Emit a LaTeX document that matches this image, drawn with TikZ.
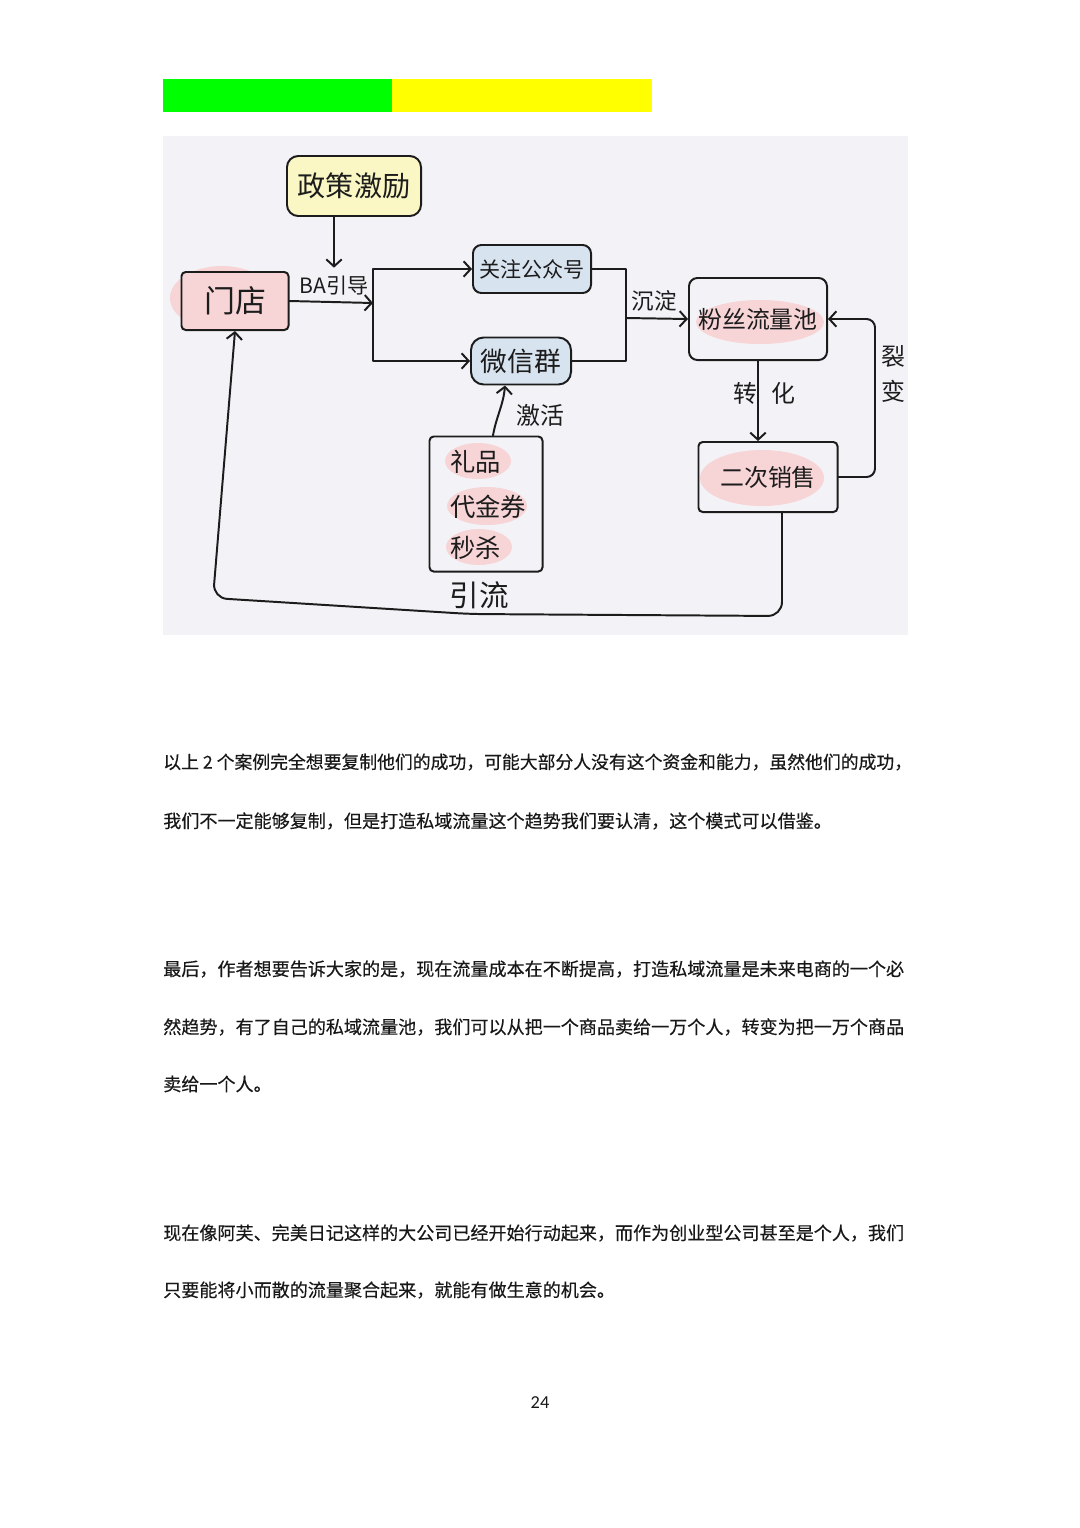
\documentclass[tikz,border=0pt]{standalone}
\usepackage{fontspec}
\setmainfont{Noto Sans CJK SC}
\newfontfamily\pagefont{Carlito}
\newfontfamily\bodyfont[FakeBold=0.3]{Noto Sans CJK SC}
\usepackage{tikz}
\usetikzlibrary{calc}
\usetikzlibrary{arrows.meta}
\usetikzlibrary{shapes.geometric,positioning}
\XeTeXlinebreaklocale "zh"
\XeTeXlinebreakskip=0pt plus 1pt
\definecolor{bargreen}{RGB}{0,255,0}
\definecolor{baryellow}{RGB}{255,255,0}
\definecolor{photo}{RGB}{243,243,247}
\definecolor{ink}{RGB}{28,28,28}
\definecolor{hlpink}{RGB}{247,212,214}
\definecolor{hlyellow}{RGB}{250,247,196}
\definecolor{hlblue}{RGB}{216,227,240}
\definecolor{bodytext}{RGB}{24,24,24}
\newcommand{\bodysize}{\bodyfont\fontsize{12.85pt}{16pt}\selectfont}
\newcommand{\fullline}[1]{\makebox[18.5cm][s]{#1}}
\tikzset{
    inkline/.style={
        line width=1.4pt,
        ink,
        line join=round,
        line cap=round
    },
    % 手绘箭头
    inkarrow/.style={
        inkline,
        -{Straight Barb[length=5pt, width=11pt]}
    },
    card/.style={draw=ink, line width=1.4pt, rounded corners=3pt, text=ink, inner sep=0pt},
    tag/.style={text=ink, inner sep=0pt},
    bodyline/.style={anchor=west, inner sep=0pt, text=bodytext, font=\bodysize}
}
\begin{document}
\begin{tikzpicture}[x=0.025cm, y=-0.025cm]
    \useasboundingbox (0,0) rectangle (1080,1528);
    \fill[white] (0,0) rectangle (1080,1528);

    \fill[bargreen] (163,79) rectangle (392,112);
    \fill[baryellow] (392,79) rectangle (652,112);
    \fill[photo] (163,136) rectangle (908,635);

    \fill[hlpink] (222,298) ellipse [x radius=52, y radius=32];
    \fill[hlpink] (760,322) ellipse [x radius=64, y radius=22];
    \fill[hlpink] (762,478) ellipse [x radius=62, y radius=28];
    \fill[hlpink] (478,461) ellipse [x radius=33, y radius=18];
    \fill[hlpink] (487,506) ellipse [x radius=40, y radius=19];
    \fill[hlpink] (479,547) ellipse [x radius=33, y radius=18];

    \node[card, fill=hlyellow, minimum width=3.35cm, minimum height=1.5cm, rounded corners=8pt,
        font=\fontsize{20pt}{22pt}\selectfont] (policy) at (354,186) {政策激励};
    \node[card, fill=hlpink, minimum width=2.675cm, minimum height=1.45cm,
        font=\fontsize{22pt}{24pt}\selectfont] (store) at (235,301) {门店};
    \node[card, fill=hlblue, minimum width=2.95cm, minimum height=1.2cm, rounded corners=6pt,
        font=\fontsize{15pt}{17pt}\selectfont] (gzh) at (532,269) {关注公众号};
    \node[card, fill=hlblue, minimum width=2.5cm, minimum height=1.175cm, rounded corners=9pt,
        font=\fontsize{19pt}{21pt}\selectfont] (wxq) at (521,361) {微信群};
    \node[card, minimum width=3.45cm, minimum height=2.05cm, rounded corners=6pt,
        font=\fontsize{17pt}{19pt}\selectfont] (pool) at (758,319) {粉丝流量池};
    \node[card, minimum width=3.475cm, minimum height=1.75cm,
        font=\fontsize{17pt}{19pt}\selectfont] (resale) at (768,477) {二次销售};
    \node[card, minimum width=2.825cm, minimum height=3.375cm] (gifts) at (486,504) {};
    \node[tag, anchor=west, font=\fontsize{18pt}{20pt}\selectfont] (gift) at (450,462) {礼品};
    \node[tag, anchor=west, font=\fontsize{18pt}{20pt}\selectfont] (coupon) at (450,507) {代金券};
    \node[tag, anchor=west, font=\fontsize{18pt}{20pt}\selectfont] (flash) at (450,548) {秒杀};

    \node[tag, inner ysep=6pt, font=\fontsize{15pt}{17pt}\selectfont] (ba) at (334,286) {BA引导};
    \node[tag, font=\fontsize{16pt}{18pt}\selectfont] (settle) at (654,301) {沉淀};
    \node[tag, font=\fontsize{17pt}{19pt}\selectfont] (convert) at (764,393) {转\hspace{10pt}化};
    \node[tag, align=center, font=\fontsize{17pt}{25pt}\selectfont] (fission) at (893,374) {裂\\变};
    \node[tag, font=\fontsize{17pt}{19pt}\selectfont] (activate) at (540,415) {激活};
    \node[tag, font=\fontsize{21pt}{23pt}\selectfont] (divert) at (479,595) {引流};

    \coordinate (fork) at (373,303);
    \coordinate (merge) at (626,318);
    \coordinate (loopR) at (875,477);
    \coordinate (lowR) at (782,616);
    \coordinate (lowM) at (470,614);
    \coordinate (lowL) at (213,598);

    \draw[inkarrow] (policy.south -| ba.north) -- (ba.north);
    \draw[inkarrow] (store.east) -- (fork);
    \draw[inkarrow] (fork) |- (gzh.west);
    \draw[inkarrow] (fork) |- (wxq.west);
    \draw[inkline] (gzh.east) -| (merge);
    \draw[inkline] (wxq.east) -| (merge);
    \draw[inkarrow] (merge) -- (pool.west);
    \draw[inkarrow] (pool.south) -- (pool.south |- resale.north);
    \draw[inkarrow, rounded corners=6] (resale.east) -- (loopR) |- (pool.east);
    \draw[inkarrow] ($(gifts.north)+(7,0)$) to[out=80, in=-95] ($(wxq.south)+(-16,0)$);
    \draw[inkarrow, rounded corners=10] ($(resale.south)+(14,0)$) -- (lowR) -- (lowM) -- (lowL) -- (store.south);

    \node[bodyline, font=\bodyfont\fontsize{12.68pt}{16pt}\selectfont] (p1a) at (163,762) {\fullline{以上\hspace{0.22em}2\hspace{0.22em}个案例完全想要复制他们的成功，可能大部分人没有这个资金和能力，虽然他们的成功，}};
    \node[bodyline] (p1b) at (163,821) {我们不一定能够复制，但是打造私域流量这个趋势我们要认清，这个模式可以借鉴。};
    \node[bodyline] (p2a) at (163,969) {\fullline{最后，作者想要告诉大家的是，现在流量成本在不断提高，打造私域流量是未来电商的一个必}};
    \node[bodyline] (p2b) at (163,1027) {\fullline{然趋势，有了自己的私域流量池，我们可以从把一个商品卖给一万个人，转变为把一万个商品}};
    \node[bodyline] (p2c) at (163,1084) {卖给一个人。};
    \node[bodyline] (p3a) at (163,1233) {\fullline{现在像阿芙、完美日记这样的大公司已经开始行动起来，而作为创业型公司甚至是个人，我们}};
    \node[bodyline] (p3b) at (163,1290) {只要能将小而散的流量聚合起来，就能有做生意的机会。};

    \node[text=bodytext, font=\pagefont\fontsize{13pt}{15pt}\selectfont] (pageno) at (540,1403) {24};
\end{tikzpicture}
\end{document}
